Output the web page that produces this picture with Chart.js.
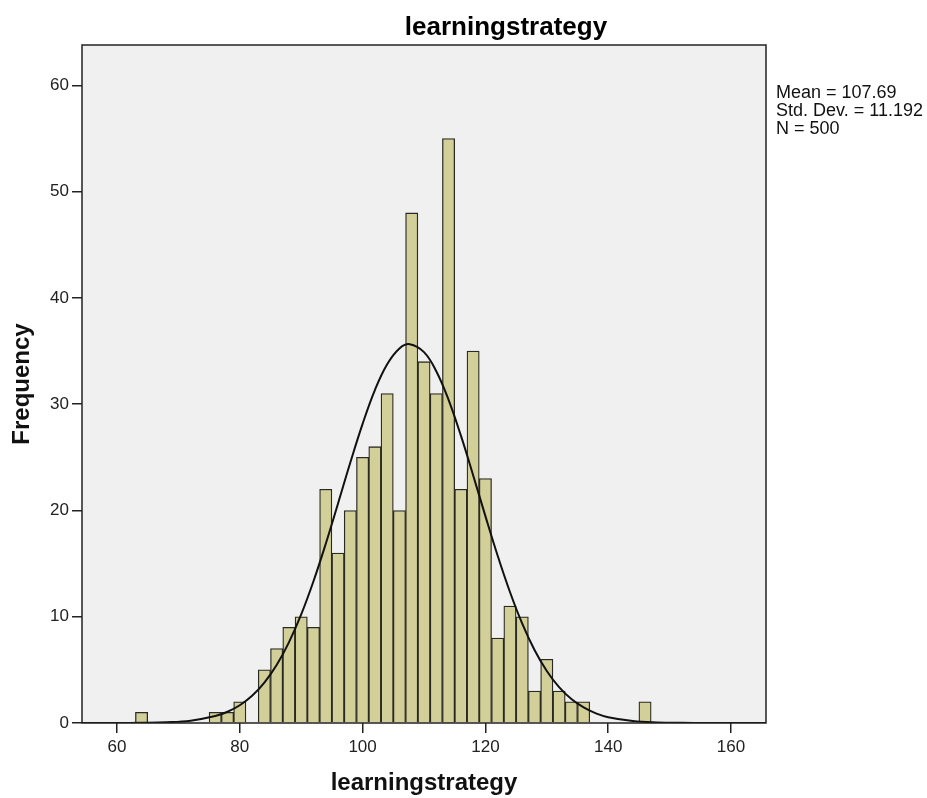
<!DOCTYPE html>
<html lang="en">
<head>
    <meta charset="UTF-8">
    <title>learningstrategy</title>
    <script src="https://cdn.jsdelivr.net/npm/chart.js"></script>
    <style>
        html, body { margin: 0; padding: 0; background: #fff; }
        #wrap { width: 927px; height: 798px; }
    </style>
</head>
<body>
    <div id="wrap"><canvas id="histChart" width="927" height="798"></canvas></div>
    <script>
        // bin centres (bin width 2) and counts
        const binCentres = [64, 76, 78, 80, 84, 86, 88, 90, 92, 94, 96, 98, 100, 102, 104, 106, 108, 110, 112, 114, 116, 118, 120, 122, 124, 126, 128, 130, 132, 134, 136, 146];
        const binCounts  = [1, 1, 1, 2, 5, 7, 9, 10, 9, 22, 16, 20, 25, 26, 31, 20, 48, 34, 31, 55, 22, 35, 23, 8, 11, 10, 3, 6, 3, 2, 2, 2];

        // normal curve
        const curveX = [54.3, 56, 60, 64, 68, 72, 76, 78, 80, 82, 84, 86, 88, 90, 92, 94, 96, 98, 100, 102, 104, 106, 107.69, 110, 112, 114, 116, 118, 120, 122, 124, 126, 128, 130, 132, 134, 136, 138, 140, 144, 148, 152, 156, 160, 165.7];
        const curveY = [0, 0.001, 0.004, 0.018, 0.066, 0.22, 0.65, 1.06, 1.67, 2.56, 3.8, 5.45, 7.59, 10.22, 13.34, 16.87, 20.66, 24.51, 28.15, 31.33, 33.76, 35.25, 35.65, 34.9, 33.1, 30.41, 27.06, 23.32, 19.47, 15.74, 12.33, 9.35, 6.87, 4.89, 3.37, 2.25, 1.46, 0.91, 0.55, 0.19, 0.054, 0.014, 0.003, 0.001, 0];

        const xTicks = [60, 80, 100, 120, 140, 160];
        const yTicks = [0, 10, 20, 30, 40, 50, 60];
        const statLines = ['Mean = 107.69', 'Std. Dev. = 11.192', 'N = 500'];
        const chartTitle = 'learningstrategy';

        const FONT = '"Liberation Sans", Arial, sans-serif';

        const framePlugin = {
            id: 'frame',
            beforeDraw(chart) {
                const a = chart.chartArea, ctx = chart.ctx;
                ctx.save();
                ctx.fillStyle = '#f0f0f0';
                ctx.fillRect(a.left, a.top, a.right - a.left, a.bottom - a.top);
                ctx.restore();
            },
            afterDraw(chart) {
                const a = chart.chartArea, ctx = chart.ctx;
                ctx.save();
                ctx.strokeStyle = '#222';
                ctx.lineWidth = 1.5;
                ctx.strokeRect(a.left, a.top, a.right - a.left, a.bottom - a.top);
                // title
                ctx.fillStyle = '#000';
                ctx.font = 'bold 26px ' + FONT;
                ctx.textAlign = 'center';
                ctx.textBaseline = 'middle';
                ctx.fillText(chartTitle, 506, 28);
                // stats
                ctx.fillStyle = '#111';
                ctx.font = '18px ' + FONT;
                ctx.textAlign = 'left';
                statLines.forEach((t, i) => ctx.fillText(t, a.right + 10, 93 + i * 18));
                ctx.restore();
            }
        };

        const ctx = document.getElementById('histChart').getContext('2d');
        new Chart(ctx, {
            data: {
                datasets: [{
                    type: 'line',
                    data: curveX.map((x, i) => ({ x: x, y: curveY[i] })),
                    borderColor: '#111',
                    borderWidth: 2,
                    pointRadius: 0,
                    tension: 0.4,
                    fill: false,
                    order: 0
                }, {
                    type: 'bar',
                    data: binCentres.map((x, i) => ({ x: x, y: binCounts[i] })),
                    backgroundColor: '#d3cf98',
                    borderColor: '#2a2a24',
                    borderWidth: 1.3,
                    barPercentage: 1,
                    categoryPercentage: 1,
                    order: 1
                }]
            },
            options: {
                responsive: false,
                animation: false,
                layout: { padding: { left: 0, right: 161, top: 45, bottom: 0 } },
                plugins: { legend: { display: false }, tooltip: { enabled: false } },
                scales: {
                    x: {
                        type: 'linear',
                        min: 54.3,
                        max: 165.7,
                        offset: false,
                        afterFit(s) { s.height = 75; },
                        afterBuildTicks(s) { s.ticks = xTicks.map(v => ({ value: v })); },
                        grid: { offset: false, drawOnChartArea: false, drawTicks: true, tickLength: 10, color: '#222', lineWidth: 1.5 },
                        border: { display: false },
                        ticks: { color: '#222', font: { family: FONT, size: 17 }, padding: 4, maxRotation: 0 },
                        title: { display: true, text: 'learningstrategy', color: '#111', font: { family: FONT, size: 24, weight: 'bold' }, padding: { top: 0, bottom: 0 } }
                    },
                    y: {
                        min: 0,
                        max: 63.8,
                        afterFit(s) { s.width = 82; },
                        afterBuildTicks(s) { s.ticks = yTicks.map(v => ({ value: v })); },
                        grid: { drawOnChartArea: false, drawTicks: true, tickLength: 10, color: '#222', lineWidth: 1.5 },
                        border: { display: false },
                        ticks: { color: '#222', font: { family: FONT, size: 17 }, padding: 3 },
                        title: { display: true, text: 'Frequency', color: '#111', font: { family: FONT, size: 24, weight: 'bold' }, padding: { top: 8, bottom: 0 } }
                    }
                }
            },
            plugins: [framePlugin]
        });
    </script>
</body>
</html>
